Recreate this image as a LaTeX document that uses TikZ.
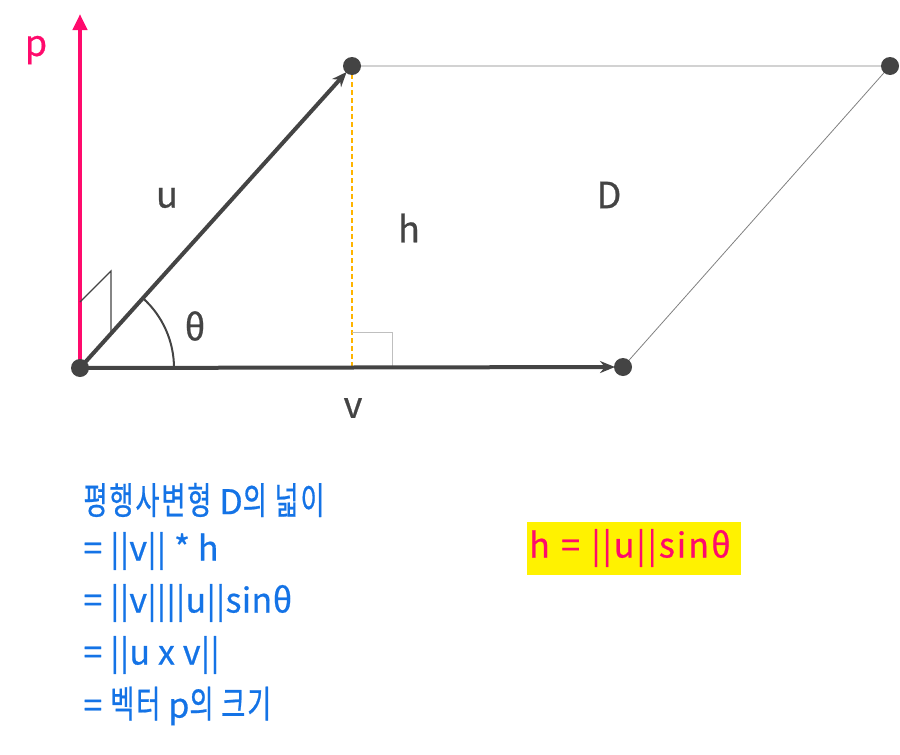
\documentclass[tikz,border=0pt]{standalone}
\usepackage{fontspec}
\setmainfont{Noto Sans CJK KR}[LetterSpace=1,FakeBold=0.6]
\newfontfamily\kr{Noto Sans CJK KR}[Scale=1.1,FakeStretch=0.7,LetterSpace=5,FakeBold=0.6]
\newfontfamily\hl{Noto Sans CJK KR}[LetterSpace=6,FakeBold=0.6]
\usetikzlibrary{arrows.meta}
\definecolor{vecgray}{HTML}{444444}
\definecolor{pcol}{HTML}{FF0A6C}
\definecolor{hcol}{HTML}{FFB400}
\definecolor{txtblue}{HTML}{1473E6}
\begin{document}
\begin{tikzpicture}[x=1pt,y=-1pt,
	dot/.style={circle,fill=vecgray,inner sep=0pt,minimum size=18pt},
	vec/.style={-{Stealth[length=15pt,width=12pt]},line width=4pt,vecgray,shorten >=8pt},
	lbl/.style={font=\fontsize{36}{40}\selectfont,text=vecgray},
	eq/.style={font=\fontsize{34}{40}\selectfont,text=txtblue,anchor=west}]
	\useasboundingbox (0,0) rectangle (900,755);
	\coordinate (o) at (80,368);
	\coordinate (a) at (352,66);
	\coordinate (b) at (623,367);
	\coordinate (c) at (890,66);
	\coordinate (ptip) at (80,14);
	\coordinate (foot) at (352,368);
	\draw[gray,line width=0.8pt] (a) -- (c) -- (b);
	\draw[hcol,dash pattern=on 5pt off 3pt,line width=1.8pt] (a) -- (foot);
	\draw[lightgray,line width=1pt] (352,332) -| (392,368); % right angle at foot
	\draw[vecgray,line width=2pt] (174,368) arc (0:-48:94);
	\draw[-{Triangle[length=16pt,width=14pt]},pcol,line width=4pt] (o) -- (ptip);
	\draw[vecgray,line width=1.2pt] (80,302) -- (111,271) -- (111,333); % p is normal to u
	\draw[vec] (o) -- (a);
	\draw[vec] (o) -- (b);
	\foreach \n in {o,a,b,c} \node[dot] (d\n) at (\n) {};
	\node[lbl,text=pcol] (plbl) at (36,50) {p};
	\node[lbl] (ulbl) at (167,198) {u};
	\node[lbl] (hlbl) at (409,228) {h};
	\node[lbl] (Dlbl) at (609,195) {D};
	\node[lbl] (thlbl) at (195,326) {θ};
	\node[lbl] (vlbl) at (353,408) {v};
	\node[eq] (eq1) at (80,500) {{\kr 평행사변형} D{\kr 의 넓이}};
	\node[eq] (eq2) at (80,551) {= ||v|| * h};
	\node[eq] (eq3) at (80,603) {= ||v||||u||sinθ};
	\node[eq] (eq4) at (80,655) {= ||u x v||};
	\node[eq] (eq5) at (80,706) {= {\kr 벡터} p{\kr 의 크기}};
	\node[eq,fill=yellow,text=pcol,inner sep=2pt,minimum height=53pt,text width=210pt] (hbox) at (527,548) {\hl h = ||u||sinθ};
\end{tikzpicture}
\end{document}
